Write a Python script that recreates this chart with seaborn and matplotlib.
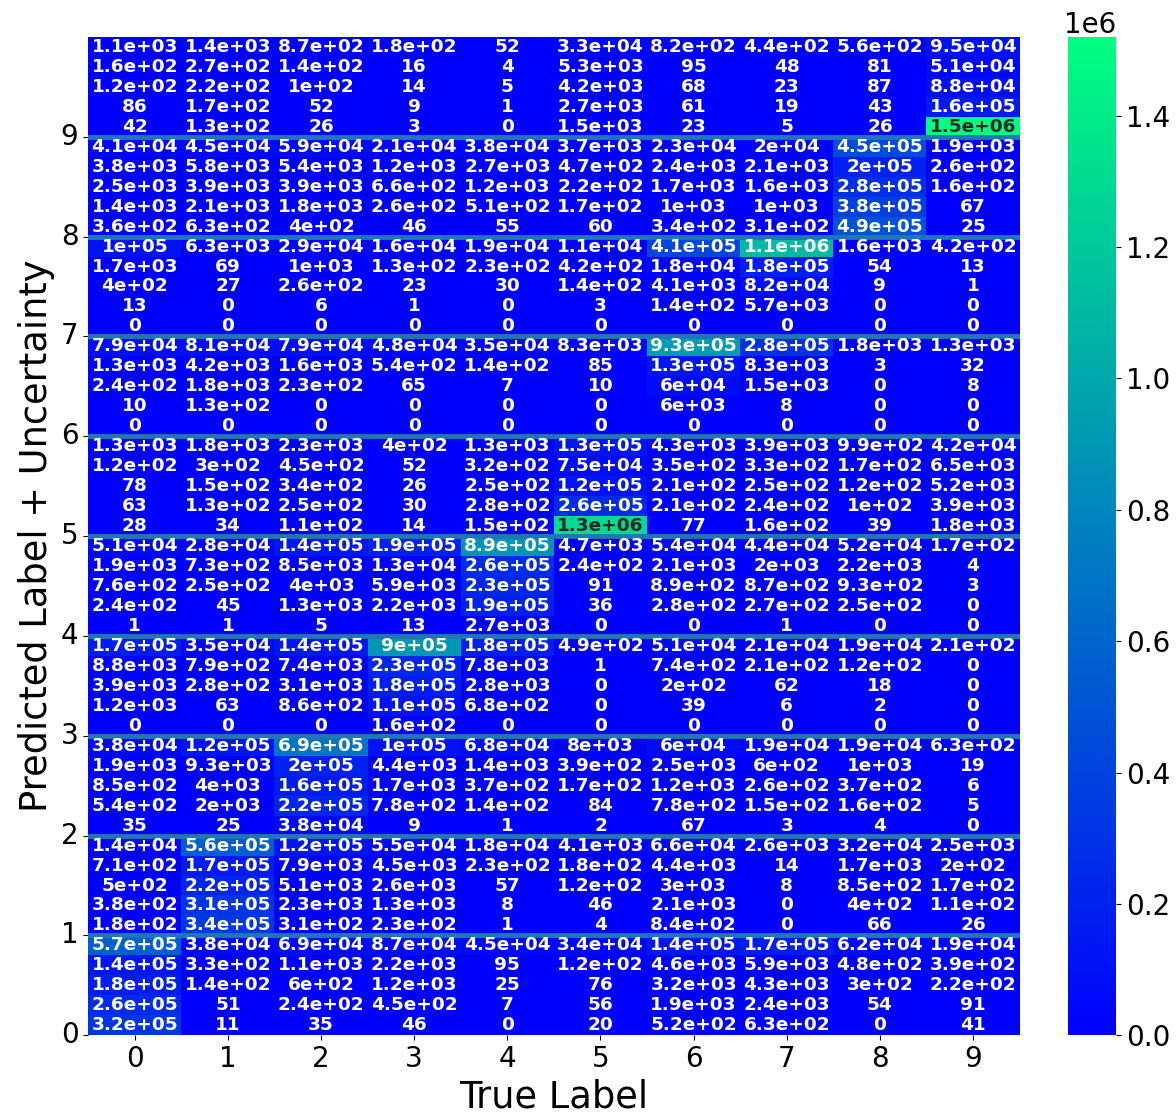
import numpy as np
import matplotlib
matplotlib.use("Agg")
import matplotlib.pyplot as plt
import seaborn as sns

# Counts per (predicted label, uncertainty bin) row and true-label column.
# Each group lists its five uncertainty rows in the order they are drawn (top to bottom).
true_labels = ["0", "1", "2", "3", "4", "5", "6", "7", "8", "9"]
pred_labels = ["0", "1", "2", "3", "4", "5", "6", "7", "8", "9"]

pred9 = [
    [1.1e3, 1.4e3, 8.7e2, 1.8e2, 52, 3.3e4, 8.2e2, 4.4e2, 5.6e2, 9.5e4],
    [1.6e2, 2.7e2, 1.4e2, 16, 4, 5.3e3, 95, 48, 81, 5.1e4],
    [1.2e2, 2.2e2, 1e2, 14, 5, 4.2e3, 68, 23, 87, 8.8e4],
    [86, 1.7e2, 52, 9, 1, 2.7e3, 61, 19, 43, 1.6e5],
    [42, 1.3e2, 26, 3, 0, 1.5e3, 23, 5, 26, 1.52e6],
]
pred8 = [
    [4.1e4, 4.5e4, 5.9e4, 2.1e4, 3.8e4, 3.7e3, 2.3e4, 2e4, 4.5e5, 1.9e3],
    [3.8e3, 5.8e3, 5.4e3, 1.2e3, 2.7e3, 4.7e2, 2.4e3, 2.1e3, 2e5, 2.6e2],
    [2.5e3, 3.9e3, 3.9e3, 6.6e2, 1.2e3, 2.2e2, 1.7e3, 1.6e3, 2.8e5, 1.6e2],
    [1.4e3, 2.1e3, 1.8e3, 2.6e2, 5.1e2, 1.7e2, 1e3, 1e3, 3.8e5, 67],
    [3.6e2, 6.3e2, 4e2, 46, 55, 60, 3.4e2, 3.1e2, 4.9e5, 25],
]
pred7 = [
    [1e5, 6.3e3, 2.9e4, 1.6e4, 1.9e4, 1.1e4, 4.1e5, 1.1e6, 1.6e3, 4.2e2],
    [1.7e3, 69, 1e3, 1.3e2, 2.3e2, 4.2e2, 1.8e4, 1.8e5, 54, 13],
    [4e2, 27, 2.6e2, 23, 30, 1.4e2, 4.1e3, 8.2e4, 9, 1],
    [13, 0, 6, 1, 0, 3, 1.4e2, 5.7e3, 0, 0],
    [0, 0, 0, 0, 0, 0, 0, 0, 0, 0],
]
pred6 = [
    [7.9e4, 8.1e4, 7.9e4, 4.8e4, 3.5e4, 8.3e3, 9.3e5, 2.8e5, 1.8e3, 1.3e3],
    [1.3e3, 4.2e3, 1.6e3, 5.4e2, 1.4e2, 85, 1.3e5, 8.3e3, 3, 32],
    [2.4e2, 1.8e3, 2.3e2, 65, 7, 10, 6e4, 1.5e3, 0, 8],
    [10, 1.3e2, 0, 0, 0, 0, 6e3, 8, 0, 0],
    [0, 0, 0, 0, 0, 0, 0, 0, 0, 0],
]
pred5 = [
    [1.3e3, 1.8e3, 2.3e3, 4e2, 1.3e3, 1.3e5, 4.3e3, 3.9e3, 9.9e2, 4.2e4],
    [1.2e2, 3e2, 4.5e2, 52, 3.2e2, 7.5e4, 3.5e2, 3.3e2, 1.7e2, 6.5e3],
    [78, 1.5e2, 3.4e2, 26, 2.5e2, 1.2e5, 2.1e2, 2.5e2, 1.2e2, 5.2e3],
    [63, 1.3e2, 2.5e2, 30, 2.8e2, 2.6e5, 2.1e2, 2.4e2, 1e2, 3.9e3],
    [28, 34, 1.1e2, 14, 1.5e2, 1.3e6, 77, 1.6e2, 39, 1.8e3],
]
pred4 = [
    [5.1e4, 2.8e4, 1.4e5, 1.9e5, 8.9e5, 4.7e3, 5.4e4, 4.4e4, 5.2e4, 1.7e2],
    [1.9e3, 7.3e2, 8.5e3, 1.3e4, 2.6e5, 2.4e2, 2.1e3, 2e3, 2.2e3, 4],
    [7.6e2, 2.5e2, 4e3, 5.9e3, 2.3e5, 91, 8.9e2, 8.7e2, 9.3e2, 3],
    [2.4e2, 45, 1.3e3, 2.2e3, 1.9e5, 36, 2.8e2, 2.7e2, 2.5e2, 0],
    [1, 1, 5, 13, 2.7e3, 0, 0, 1, 0, 0],
]
pred3 = [
    [1.7e5, 3.5e4, 1.4e5, 9e5, 1.8e5, 4.9e2, 5.1e4, 2.1e4, 1.9e4, 2.1e2],
    [8.8e3, 7.9e2, 7.4e3, 2.3e5, 7.8e3, 1, 7.4e2, 2.1e2, 1.2e2, 0],
    [3.9e3, 2.8e2, 3.1e3, 1.8e5, 2.8e3, 0, 2e2, 62, 18, 0],
    [1.2e3, 63, 8.6e2, 1.1e5, 6.8e2, 0, 39, 6, 2, 0],
    [0, 0, 0, 1.6e2, 0, 0, 0, 0, 0, 0],
]
pred2 = [
    [3.8e4, 1.2e5, 6.9e5, 1e5, 6.8e4, 8e3, 6e4, 1.9e4, 1.9e4, 6.3e2],
    [1.9e3, 9.3e3, 2e5, 4.4e3, 1.4e3, 3.9e2, 2.5e3, 6e2, 1e3, 19],
    [8.5e2, 4e3, 1.6e5, 1.7e3, 3.7e2, 1.7e2, 1.2e3, 2.6e2, 3.7e2, 6],
    [5.4e2, 2e3, 2.2e5, 7.8e2, 1.4e2, 84, 7.8e2, 1.5e2, 1.6e2, 5],
    [35, 25, 3.8e4, 9, 1, 2, 67, 3, 4, 0],
]
pred1 = [
    [1.4e4, 5.6e5, 1.2e5, 5.5e4, 1.8e4, 4.1e3, 6.6e4, 2.6e3, 3.2e4, 2.5e3],
    [7.1e2, 1.7e5, 7.9e3, 4.5e3, 2.3e2, 1.8e2, 4.4e3, 14, 1.7e3, 2e2],
    [5e2, 2.2e5, 5.1e3, 2.6e3, 57, 1.2e2, 3e3, 8, 8.5e2, 1.7e2],
    [3.8e2, 3.1e5, 2.3e3, 1.3e3, 8, 46, 2.1e3, 0, 4e2, 1.1e2],
    [1.8e2, 3.4e5, 3.1e2, 2.3e2, 1, 4, 8.4e2, 0, 66, 26],
]
pred0 = [
    [5.7e5, 3.8e4, 6.9e4, 8.7e4, 4.5e4, 3.4e4, 1.4e5, 1.7e5, 6.2e4, 1.9e4],
    [1.4e5, 3.3e2, 1.1e3, 2.2e3, 95, 1.2e2, 4.6e3, 5.9e3, 4.8e2, 3.9e2],
    [1.8e5, 1.4e2, 6e2, 1.2e3, 25, 76, 3.2e3, 4.3e3, 3e2, 2.2e2],
    [2.6e5, 51, 2.4e2, 4.5e2, 7, 56, 1.9e3, 2.4e3, 54, 91],
    [3.2e5, 11, 35, 46, 0, 20, 5.2e2, 6.3e2, 0, 41],
]

groups = [pred9, pred8, pred7, pred6, pred5, pred4, pred3, pred2, pred1, pred0]
matrix = np.vstack([np.array(g, dtype=float) for g in groups])
n_rows = matrix.shape[0]
rows_per_group = 5

fig = plt.figure(figsize=(11.76, 11.18), dpi=100)
ax = fig.add_axes([0.075, 0.074, 0.792, 0.893])
cax = fig.add_axes([0.908, 0.074, 0.041, 0.893])

sns.heatmap(
    matrix,
    ax=ax,
    cbar_ax=cax,
    cmap="winter",
    vmin=0,
    annot=True,
    fmt=".2g",
    annot_kws={"fontsize": 13.3, "fontweight": "bold"},
    xticklabels=true_labels,
)

# Separators between predicted-label groups
for k in range(1, len(groups)):
    ax.axhline(k * rows_per_group, color="tab:blue", lw=3.5)

# Predicted labels sit on the lower edge of each group, 0 at the bottom
ytick_pos = [n_rows - rows_per_group * i for i in range(len(pred_labels))]
ax.set_yticks(ytick_pos)
ax.set_yticklabels(pred_labels, rotation=0, fontsize=20)
ax.set_xticklabels(true_labels, rotation=0, fontsize=20)

ax.set_xlabel("True Label", fontsize=26.5)
ax.set_ylabel("Predicted Label + Uncertainty", fontsize=26.5)

cax.tick_params(labelsize=20)
cax.yaxis.get_offset_text().set_fontsize(20)

fig.savefig("out.png", dpi=100)
